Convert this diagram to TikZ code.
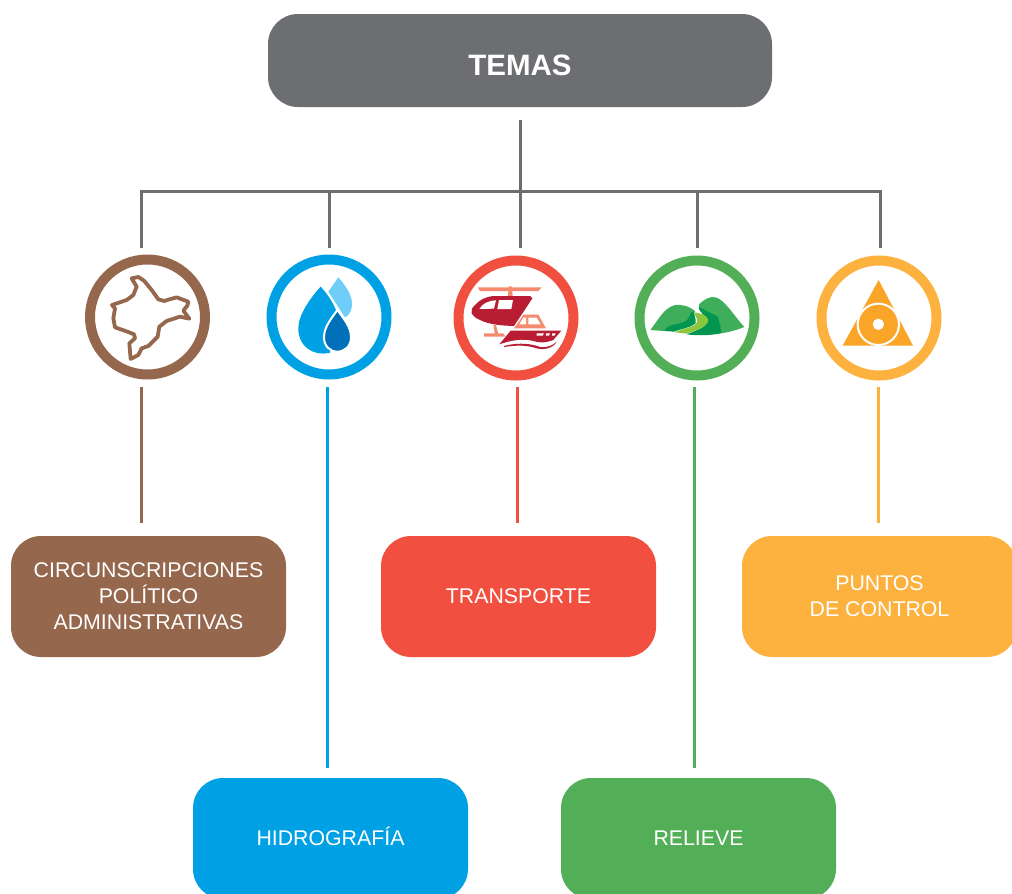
\documentclass[tikz,border=0pt]{standalone}
\usepackage{fontspec}
\setmainfont{Liberation Sans}
\definecolor{cgray}{HTML}{6D6E71}
\definecolor{cbrown}{HTML}{95674D}
\definecolor{cblue}{HTML}{00A1E4}
\definecolor{cred}{HTML}{F15040}
\definecolor{cgreen}{HTML}{53AF57}
\definecolor{corange}{HTML}{FDB240}
\definecolor{dkblue}{HTML}{0071B9}
\definecolor{ltblue}{HTML}{6FCEF8}
\definecolor{dkred}{HTML}{B81D33}
\definecolor{ltred}{HTML}{F58A6E}
\definecolor{hill}{HTML}{3EAE5B}
\definecolor{dkhill}{HTML}{009650}
\definecolor{river}{HTML}{8CC63F}
\definecolor{tri}{HTML}{FAA528}
\tikzset{
  x=1pt,y=-1pt,
  topbox/.style={fill=cgray,rounded corners=30pt,minimum width=504pt,minimum height=93pt,inner sep=0pt,text=white,font=\fontsize{29.5}{34}\selectfont\bfseries},
  theme/.style={fill=#1,rounded corners=30pt,minimum width=275pt,minimum height=121pt,inner sep=0pt,text=white,align=center,font=\fontsize{21.3}{26}\selectfont},
  ring/.style={circle,draw=#1,line width=10pt,fill=white,minimum size=115pt,inner sep=0pt},
  trunk/.style={draw=cgray,line width=3pt},
  link/.style={draw=#1,line width=3pt},
  zoomed/.style={shift={#1},x=0.33333pt,y=-0.33333pt}
}
\begin{document}
\begin{tikzpicture}
\useasboundingbox (0,0) rectangle (1012,894);
\clip (0,0) rectangle (1012,894);
% boxes
\node[topbox] (temas) at (520,60.5) {\rule{0pt}{30pt}TEMAS};
\node[theme=cbrown] (pol) at (148.5,596.5) {CIRCUNSCRIPCIONES\\POLÍTICO\\ADMINISTRATIVAS};
\node[theme=cred] (tra) at (518.5,596.5) {TRANSPORTE};
\node[theme=corange] (pun) at (879.5,596.5) {PUNTOS\\DE CONTROL};
\node[theme=cblue] (hid) at (330.5,838.5) {\smash{HIDROGRAFÍA}\vphantom{H}};
\node[theme=cgreen] (rel) at (698.5,838.5) {RELIEVE};
% circles
\node[ring=cbrown] (c1) at (147.5,317) {};
\node[ring=cblue] (c2) at (329,317) {};
\node[ring=cred] (c3) at (516,318) {};
\node[ring=cgreen] (c4) at (697,318) {};
\node[ring=corange] (c5) at (879,318) {};
% gray tree
\coordinate (t0) at (520,120);
\coordinate (j1) at (141,191);
\coordinate (j2) at (329,191);
\coordinate (j4) at (697,191);
\coordinate (j5) at (880,191);
\coordinate (e1) at (141,248);
\coordinate (e2) at (329,248);
\coordinate (e3) at (520,248);
\coordinate (e4) at (697,248);
\coordinate (e5) at (880,248);
\draw[trunk] (t0) -- (e3);
\draw[trunk] (e1) -- (j1) -- (j5) -- (e5);
\draw[trunk] (j2) -- (e2);
\draw[trunk] (j4) -- (e4);
% coloured links
\coordinate (a1) at (141,387); \coordinate (b1) at (141,523);
\coordinate (a2) at (327,387); \coordinate (b2) at (327,768);
\coordinate (a3) at (517.5,387); \coordinate (b3) at (517.5,523);
\coordinate (a4) at (694.5,387); \coordinate (b4) at (694.5,768);
\coordinate (a5) at (878.5,387); \coordinate (b5) at (878.5,523);
\draw[link=cbrown] (a1) -- (b1);
\draw[link=cblue] (a2) -- (b2);
\draw[link=cred] (a3) -- (b3);
\draw[link=cgreen] (a4) -- (b4);
\draw[link=corange] (a5) -- (b5);
% map icon
\begin{scope}[zoomed={(70,240)}]
\draw[cbrown,line width=3.8pt,line join=round,fill=white]
 (185,115)--(205,111)--(222,122)--(245,150)--(265,178)--(283,183)--(298,178)--(320,172)--(355,185)--(352,197)--(340,212)--(358,236)--(330,230)--(290,243)--(268,260)--(263,290)--(245,308)--(235,318)--(215,325)--(205,345)--(182,357)--(178,310)--(195,295)--(192,283)--(175,276)--(135,262)--(130,235)--(135,205)--(126,195)--(170,180)--(190,165)--(200,140)--cycle;
\end{scope}
% drops icon
\begin{scope}[zoomed={(70,240)}]
\fill[ltblue] (805,112) .. controls (825,135) and (848,165) .. (846,195) .. controls (845,215) and (835,228) .. (825,232) -- (775,155) -- cycle;
\fill[cblue] (752,140) .. controls (775,165) and (790,190) .. (800,215) -- (780,338) .. controls (730,350) and (685,320) .. (685,265) .. controls (685,225) and (720,175) .. (752,140) -- cycle;
\draw[white,line width=2pt,fill=dkblue] (802,210) .. controls (820,235) and (843,260) .. (843,292) .. controls (843,318) and (825,335) .. (802,335) .. controls (780,335) and (762,318) .. (762,292) .. controls (762,260) and (785,235) .. (802,210) -- cycle;
\end{scope}
% helicopter and boat icon
\begin{scope}[zoomed={(440,245)}]
\fill[ltred] (113,127)--(305,127)--(295,138)--(120,138)--cycle;
\fill[ltred] (206,124)--(215,124)--(218,153)--(204,153)--cycle;
\fill[ltred] (132,265)--(190,265)--(196,275)--(132,275)--cycle;
\fill[ltred] (160,240)--(168,240)--(175,268)--(165,268)--cycle;
\fill[dkred] (160,153) -- (270,153) -- (277,160) -- (222,243) .. controls (190,242) and (150,240) .. (120,225) .. controls (90,212) and (88,195) .. (105,180) .. controls (120,163) and (140,155) .. (160,153) -- cycle;
\fill[white] (118,192) .. controls (128,175) and (145,167) .. (168,166) -- (162,191) -- cycle;
\fill[white] (177,165)--(219,165)--(214,192)--(172,192)--cycle;
\fill[ltred] (222,250)--(240,225)--(250,209)--(295,209)--(318,250)--cycle;
\fill[white] (250,218)--(258,218)--(258,238)--(238,238)--cycle;
\fill[white] (265,218)--(290,218)--(302,238)--(265,238)--cycle;
\fill[dkred] (212,257)--(364,257)--(340,285) .. controls (320,293) and (300,295) .. (280,288) .. controls (250,280) and (215,285) .. (178,298) -- cycle;
\fill[white] (290,265)--(312,265)--(308,272)--(290,272)--cycle;
\fill[white] (318,265)--(330,265)--(327,272)--(318,272)--cycle;
\fill[white] (336,265)--(347,265)--(344,272)--(336,272)--cycle;
\fill[dkred] (192,303) .. controls (240,290) and (280,298) .. (300,306) .. controls (320,310) and (340,300) .. (350,290) .. controls (340,310) and (310,316) .. (290,310) .. controls (260,300) and (230,300) .. (192,306) -- cycle;
\end{scope}
% hills icon
\begin{scope}[zoomed={(625,245)}]
\fill[hill] (76,255) .. controls (100,225) and (115,190) .. (150,180) .. controls (175,178) and (195,185) .. (210,198) -- (195,222) -- (150,250) -- (118,258) -- cycle;
\fill[hill] (222,178) .. controls (235,165) and (255,152) .. (272,157) .. controls (300,165) and (325,210) .. (358,246) .. controls (335,255) and (310,262) .. (288,265) -- (282,225) -- (240,198) -- (222,195) -- cycle;
\fill[dkhill] (118,258) .. controls (125,240) and (150,240) .. (175,232) .. controls (190,225) and (195,215) .. (196,205) -- (208,198) .. controls (205,210) and (215,222) .. (212,235) .. controls (195,250) and (170,250) .. (148,260) -- cycle;
\fill[dkhill] (222,185) .. controls (235,195) and (262,205) .. (278,215) .. controls (285,230) and (288,250) .. (288,265) .. controls (250,272) and (215,272) .. (185,268) .. controls (215,255) and (245,248) .. (248,225) .. controls (240,208) and (222,205) .. (222,185) -- cycle;
\fill[river] (208,202) .. controls (225,205) and (247,210) .. (250,225) .. controls (247,248) and (215,255) .. (185,266) -- (150,262) .. controls (175,248) and (205,250) .. (216,232) .. controls (220,220) and (208,212) .. (208,202) -- cycle;
\end{scope}
% control point icon
\begin{scope}[zoomed={(625,245)}]
\fill[tri] (761,105)--(864,302)--(653,302)--cycle;
\draw[white,line width=2pt,fill=tri] (760,238) circle (62);
\fill[white] (760,238) circle (17);
\end{scope}
\end{tikzpicture}
\end{document}
